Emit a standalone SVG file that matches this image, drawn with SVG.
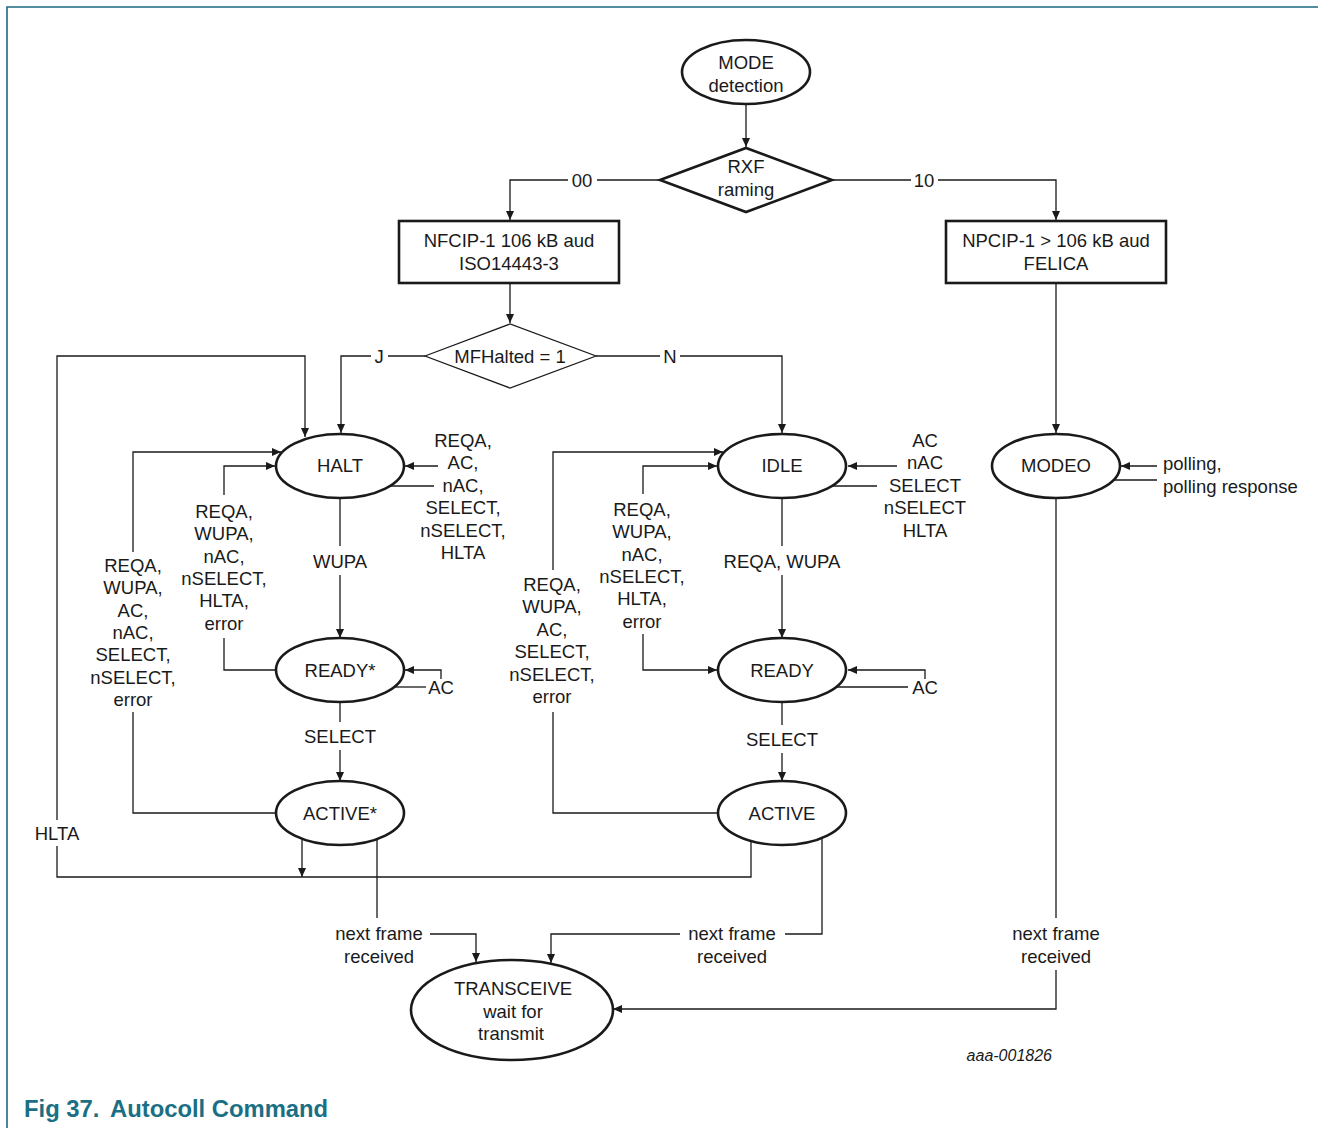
<svg xmlns="http://www.w3.org/2000/svg" width="1318" height="1128" viewBox="0 0 1318 1128">
<defs>
<marker id="ah" markerUnits="userSpaceOnUse" markerWidth="10" markerHeight="8" refX="9" refY="4" orient="auto">
<path d="M0,0 L9,4 L0,8 Z" fill="#1a1a1a"/>
</marker>
<style>
.t{font-family:"Liberation Sans",Arial,sans-serif;font-size:18.5px;fill:#1a1a1a;text-anchor:middle}
.ts{text-anchor:start}
.n{fill:#fff;stroke:#1a1a1a;stroke-width:2.6}
.d{fill:#fff;stroke:#1a1a1a;stroke-width:1.2}
.c{fill:none;stroke:#1a1a1a;stroke-width:1.3}
.a{marker-end:url(#ah)}
</style>
</defs>
<rect width="1318" height="1128" fill="#fff"/>
<g id="frame">
<path d="M7,1128 V7 H1318" fill="none" stroke="#1b6a80" stroke-width="1.6"/>
</g>

<g id="connectors">
<path class="c a" d="M746,104 V147"/>
<path class="c" d="M660,180 H597"/>
<path class="c a" d="M568,180 H510 V220"/>
<path class="c" d="M832,180 H911"/>
<path class="c a" d="M938,180 H1056 V220"/>
<path class="c a" d="M510,283 V323"/>
<path class="c" d="M425,356 H388"/>
<path class="c a" d="M371,356 H341 V433"/>
<path class="c" d="M596,356 H660"/>
<path class="c a" d="M680,356 H782 V433"/>
<path class="c a" d="M1056,283 V433"/>
<path class="c a" d="M340,498 V638" stroke-dasharray="48 29 200"/>
<path class="c a" d="M340,702 V781" stroke-dasharray="20 28 200"/>
<path class="c a" d="M782,498 V638" stroke-dasharray="48 29 200"/>
<path class="c a" d="M782,702 V781" stroke-dasharray="23 28 200"/>
<path class="c a" d="M438,466 H405"/>
<path class="c" d="M390,486 H434"/>
<path class="c a" d="M441,679 V670 H405"/>
<path class="c" d="M394,687 H426"/>
<path class="c a" d="M897,466 H848"/>
<path class="c" d="M832,486 H877"/>
<path class="c a" d="M925,679 V670 H848"/>
<path class="c" d="M836,687 H908"/>
<path class="c a" d="M1157,466 H1121"/>
<path class="c" d="M1113,480 H1157"/>
<path class="c" d="M276,813 H133 V712"/>
<path class="c a" d="M133,552 V452 H281"/>
<path class="c" d="M276,670 H224 V638"/>
<path class="c a" d="M224,495 V466 H275"/>
<path class="c" d="M718,813 H553 V712"/>
<path class="c a" d="M553,570 V452 H723"/>
<path class="c a" d="M643,494 V466 H717"/>
<path class="c a" d="M643,634 V670 H717"/>
<path class="c a" d="M302,839 V877"/>
<path class="c" d="M751,841 V877 H57 V846"/>
<path class="c a" d="M57,820 V356 H305 V437"/>
<path class="c" d="M377,839 V918"/>
<path class="c a" d="M430,934 H476 V962"/>
<path class="c" d="M822,838 V934 H785"/>
<path class="c a" d="M680,934 H551 V963"/>
<path class="c" d="M1056,498 V918"/>
<path class="c a" d="M1056,970 V1009 H613"/>
</g>

<g id="mode-detection">
<ellipse class="n" cx="746" cy="72" rx="64" ry="32"/>
<text class="t" x="746" y="68.5">MODE</text>
<text class="t" x="746" y="91.5">detection</text>
</g>
<g id="rxf">
<polygon class="n" points="660,180 746,148 832,180 746,212"/>
<text class="t" x="746" y="172.5">RXF</text>
<text class="t" x="746" y="195.5">raming</text>
</g>
<g id="nfcip">
<rect class="n" x="399" y="221" width="220" height="62"/>
<text class="t" x="509" y="246.5">NFCIP-1 106 kB aud</text>
<text class="t" x="509" y="269.5">ISO14443-3</text>
</g>
<g id="npcip">
<rect class="n" x="946" y="221" width="220" height="62"/>
<text class="t" x="1056" y="246.5">NPCIP-1 &gt; 106 kB aud</text>
<text class="t" x="1056" y="269.5">FELICA</text>
</g>
<g id="mfhalted">
<polygon class="d" points="425,356 510,324 596,356 510,388"/>
<text class="t" x="510" y="362.5">MFHalted = 1</text>
</g>
<g id="halt">
<ellipse class="n" cx="340" cy="466" rx="64" ry="32"/>
<text class="t" x="340" y="472">HALT</text>
</g>
<g id="ready-star">
<ellipse class="n" cx="340" cy="670" rx="64" ry="32"/>
<text class="t" x="340" y="676.5">READY*</text>
</g>
<g id="active-star">
<ellipse class="n" cx="340" cy="813" rx="64" ry="32"/>
<text class="t" x="340" y="819.5">ACTIVE*</text>
</g>
<g id="idle">
<ellipse class="n" cx="782" cy="466" rx="64" ry="32"/>
<text class="t" x="782" y="472">IDLE</text>
</g>
<g id="ready">
<ellipse class="n" cx="782" cy="670" rx="64" ry="32"/>
<text class="t" x="782" y="676.5">READY</text>
</g>
<g id="active">
<ellipse class="n" cx="782" cy="813" rx="64" ry="32"/>
<text class="t" x="782" y="819.5">ACTIVE</text>
</g>
<g id="modeo">
<ellipse class="n" cx="1056" cy="466" rx="64" ry="32"/>
<text class="t" x="1056" y="472">MODEO</text>
</g>
<g id="transceive">
<ellipse class="n" cx="512" cy="1010" rx="101" ry="50"/>
<text class="t" x="513" y="994.5">TRANSCEIVE</text>
<text class="t" x="513" y="1017.5">wait for</text>
<text class="t" x="511" y="1039.5">transmit</text>
</g>

<g id="labels">
<text class="t" x="582" y="186.5">00</text>
<text class="t" x="924" y="186.5">10</text>
<text class="t" x="379" y="362.5">J</text>
<text class="t" x="670" y="362.5">N</text>
<text class="t" x="340" y="567.5">WUPA</text>
<text class="t" x="340" y="742.5">SELECT</text>
<text class="t" x="782" y="567.5">REQA, WUPA</text>
<text class="t" x="782" y="745.5">SELECT</text>
<text class="t" x="463"><tspan x="463" y="447">REQA,</tspan><tspan x="463" y="469">AC,</tspan><tspan x="463" y="491.5">nAC,</tspan><tspan x="463" y="514">SELECT,</tspan><tspan x="463" y="536.5">nSELECT,</tspan><tspan x="463" y="559">HLTA</tspan></text>
<text class="t"><tspan x="133" y="571.5">REQA,</tspan><tspan x="133" y="594">WUPA,</tspan><tspan x="133" y="616.5">AC,</tspan><tspan x="133" y="639">nAC,</tspan><tspan x="133" y="661">SELECT,</tspan><tspan x="133" y="683.5">nSELECT,</tspan><tspan x="133" y="706">error</tspan></text>
<text class="t"><tspan x="224" y="517.5">REQA,</tspan><tspan x="224" y="540">WUPA,</tspan><tspan x="224" y="562.5">nAC,</tspan><tspan x="224" y="585">nSELECT,</tspan><tspan x="224" y="607">HLTA,</tspan><tspan x="224" y="629.5">error</tspan></text>
<text class="t"><tspan x="552" y="590.5">REQA,</tspan><tspan x="552" y="613">WUPA,</tspan><tspan x="552" y="635.5">AC,</tspan><tspan x="552" y="658">SELECT,</tspan><tspan x="552" y="680.5">nSELECT,</tspan><tspan x="552" y="703">error</tspan></text>
<text class="t"><tspan x="642" y="515.5">REQA,</tspan><tspan x="642" y="538">WUPA,</tspan><tspan x="642" y="560.5">nAC,</tspan><tspan x="642" y="583">nSELECT,</tspan><tspan x="642" y="605">HLTA,</tspan><tspan x="642" y="627.5">error</tspan></text>
<text class="t"><tspan x="925" y="447">AC</tspan><tspan x="925" y="469">nAC</tspan><tspan x="925" y="491.5">SELECT</tspan><tspan x="925" y="514">nSELECT</tspan><tspan x="925" y="536.5">HLTA</tspan></text>
<text class="t" x="441" y="693.5">AC</text>
<text class="t" x="925" y="693.5">AC</text>
<text class="t ts"><tspan x="1163" y="470">polling,</tspan><tspan x="1163" y="493">polling response</tspan></text>
<text class="t" x="57" y="839.5">HLTA</text>
<text class="t"><tspan x="379" y="940">next frame</tspan><tspan x="379" y="963">received</tspan></text>
<text class="t"><tspan x="732" y="940">next frame</tspan><tspan x="732" y="963">received</tspan></text>
<text class="t"><tspan x="1056" y="940">next frame</tspan><tspan x="1056" y="963">received</tspan></text>
<text class="t" x="1052" y="1061" style="font-size:16px;font-style:italic;text-anchor:end">aaa-001826</text>
</g>
<g id="title" style="font-family:'Liberation Sans',Arial,sans-serif;font-weight:bold;font-size:23.8px;fill:#1b6f84">
<text x="24" y="1117">Fig 37.</text>
<text x="110" y="1117">Autocoll Command</text>
</g>
</svg>
